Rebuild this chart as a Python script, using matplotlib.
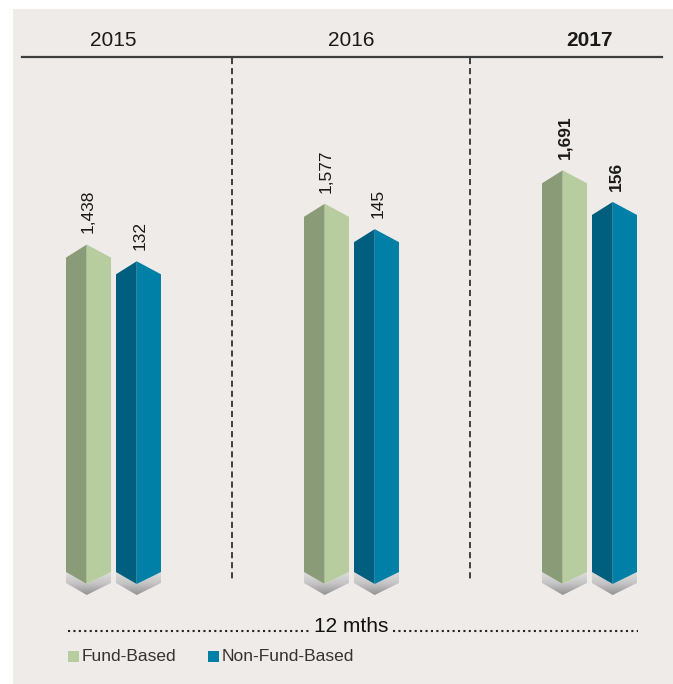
import numpy as np
import matplotlib
matplotlib.use('Agg')
import matplotlib.pyplot as plt
from matplotlib.patches import Polygon, Rectangle
from matplotlib.lines import Line2D
from matplotlib.colors import LinearSegmentedColormap
import matplotlib.transforms as mtrans

plt.rcParams['font.family'] = ['Liberation Sans Narrow', 'Liberation Sans', 'DejaVu Sans']

# data
years = ['2015', '2016', '2017']
fund_based = [1438, 1577, 1691]
non_fund_based = [132, 145, 156]
fund_labels = ['1,438', '1,577', '1,691']
non_fund_labels = ['132', '145', '156']
series_names = ['Fund-Based', 'Non-Fund-Based']

# colours
bg = '#efebe8'
fund_dark, fund_light = '#899c77', '#b8cd9f'
nf_dark, nf_light = '#005f7f', '#0080a7'

W, H = 673, 684
fig = plt.figure(figsize=(W / 100, H / 100), dpi=100)

def fx(px):
    return px / W

def fy(py):
    return 1 - py / H

# panel background (behind the axes)
fig.patches.append(Rectangle((fx(13), 0), 1 - fx(13), fy(9), transform=fig.transFigure,
                             facecolor=bg, edgecolor='none', zorder=-5))

ax = fig.add_axes([0, 0, 1, 1])
ax2 = ax.twinx()
for a in (ax, ax2):
    a.set_facecolor('none')
    a.axis('off')

# group spacing is 238 px, first group centred at 113.5 px
xlim = (-113.5 / 238, (W - 113.5) / 238)
fund_lim = (-58.5, 2271)
nf_lim = (-39.0, 237.7)
fund_floor = 323
nf_floor = 6.3

bar_w = 45 / 238
offset = 25 / 238
ridge_frac = 0.46
roof_px, chev_px, band_px = 13, 12, 11

grey = LinearSegmentedColormap.from_list('base', ['#dedede', '#c4c4c4', '#939393'])


def prism(a, xc, top, floor, ylim, dark, light):
    upp = (ylim[1] - ylim[0]) / H  # data units per pixel
    roof, chev, band = roof_px * upp, chev_px * upp, band_px * upp
    xl = xc - bar_w / 2
    xr = xc + bar_w / 2
    xm = xl + bar_w * ridge_frac
    left = [(xl, floor), (xl, top - roof), (xm, top), (xm, floor - chev)]
    right = [(xm, top), (xr, top - roof), (xr, floor), (xm, floor - chev)]
    a.add_patch(Polygon(left, closed=True, facecolor=dark, edgecolor='none', zorder=3))
    a.add_patch(Polygon(right, closed=True, facecolor=light, edgecolor='none', zorder=3))
    base = Polygon([(xl, floor), (xm, floor - chev), (xr, floor), (xr, floor - band),
                    (xm, floor - chev - band), (xl, floor - band)],
                   closed=True, facecolor='none', edgecolor='none')
    a.add_patch(base)
    grad = np.linspace(0, 1, 64).reshape(-1, 1)
    im = a.imshow(grad, extent=[xl, xr, floor - chev - band, floor], origin='upper',
                  cmap=grey, aspect='auto', zorder=2, interpolation='bilinear')
    im.set_clip_path(base)


x = np.arange(len(years))
for i in range(len(years)):
    prism(ax, x[i] - offset, fund_based[i], fund_floor, fund_lim, fund_dark, fund_light)
    prism(ax2, x[i] + offset, non_fund_based[i], nf_floor, nf_lim, nf_dark, nf_light)
    bold = 'bold' if i == len(years) - 1 else 'normal'
    ax.annotate(fund_labels[i], (x[i] - offset, fund_based[i]), xytext=(0, 8),
                textcoords='offset points', rotation=90, ha='center', va='bottom',
                fontsize=12.5, fontweight=bold, color='#1a1a1a')
    ax2.annotate(non_fund_labels[i], (x[i] + offset, non_fund_based[i]), xytext=(1, 8),
                 textcoords='offset points', rotation=90, ha='center', va='bottom',
                 fontsize=12.5, fontweight=bold, color='#1a1a1a')

for a, lim in ((ax, fund_lim), (ax2, nf_lim)):
    a.set_xlim(*xlim)
    a.set_ylim(*lim)

# header with years
hdr = mtrans.blended_transform_factory(ax.transData, fig.transFigure)
for i, yr in enumerate(years):
    ax.text(x[i], fy(40), yr, transform=hdr, ha='center', va='center', fontsize=15,
            fontweight='bold' if i == len(years) - 1 else 'normal', color='#1a1a1a')
fig.add_artist(Line2D([fx(22), fx(662)], [fy(57), fy(57)], transform=fig.transFigure,
                      color='#3d3d3d', lw=1.6))

# dashed separators between years
for sep in (0.5, 1.5):
    ax.plot([sep, sep], [fy(58), fy(582)], transform=hdr, color='#111111', lw=1.1,
            ls=(0, (4, 2.6)), zorder=1)

# period line
dots = dict(transform=fig.transFigure, color='#222222', lw=1.5, ls=(0, (1, 1.6)),
            dash_capstyle='butt')
fig.add_artist(Line2D([fx(68), fx(310)], [fy(631), fy(631)], **dots))
fig.add_artist(Line2D([fx(393), fx(638)], [fy(631), fy(631)], **dots))
fig.text(fx(351), fy(632), '12 mths', ha='center', va='baseline', fontsize=15, color='#111111')

# legend
for px, name, col in ((68, series_names[0], fund_light), (208, series_names[1], nf_light)):
    fig.patches.append(Rectangle((fx(px), fy(662)), fx(11), 11 / H, transform=fig.transFigure,
                                 facecolor=col, edgecolor='none'))
    fig.text(fx(px + 14), fy(656.5), name, ha='left', va='center', fontsize=12.5, color='#333333')

fig.savefig('out.png', dpi=100, facecolor='white')
